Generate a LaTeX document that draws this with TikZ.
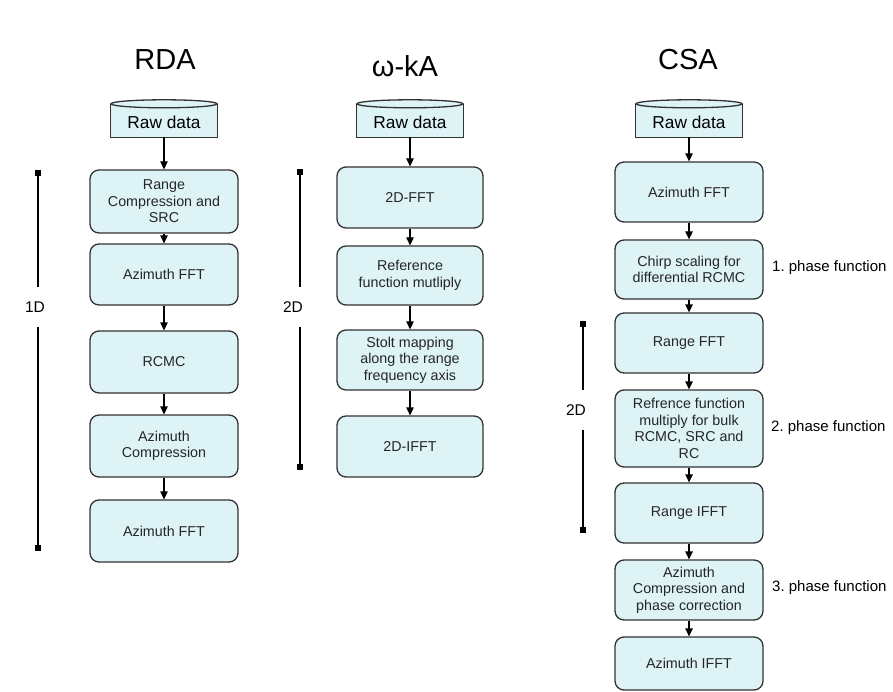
\documentclass[tikz,border=0pt]{standalone}
\usepackage{fontspec}
\setmainfont{Liberation Sans}
\usetikzlibrary{backgrounds,arrows.meta}
\frenchspacing
\definecolor{boxfill}{RGB}{221,243,246}
\definecolor{boxline}{RGB}{50,50,50}
\newcommand\rawcyl[1]{%
  \fill[boxfill] ([yshift=-4pt]#1.north west) -- (#1.south west) -- (#1.south east) -- ([yshift=-4pt]#1.north east) -- cycle;
  \draw[draw=boxline,line width=1.3pt] ([yshift=-4pt]#1.north west) -- (#1.south west) -- (#1.south east) -- ([yshift=-4pt]#1.north east);
  \draw[draw=boxline,fill=boxfill,line width=1.3pt] ([yshift=-4pt]#1.north) ellipse [x radius=53pt, y radius=4pt];
}
\tikzset{
  proc/.style={draw=boxline, fill=boxfill, line width=1.3pt, rounded corners=9pt, minimum width=148pt, align=center, font=\fontsize{14.3}{16.5}\selectfont, inner sep=2pt, text=black!85},
  rawbox/.style={minimum width=106pt, minimum height=37pt, inner sep=0pt},
  rawtext/.style={font=\fontsize{17.3}{20}\selectfont},
  flow/.style={-{Triangle[length=8pt,width=7.5pt]}, line width=1.3pt},
  title/.style={font=\fontsize{29}{32}\selectfont},
  plabel/.style={font=\fontsize{15}{18}\selectfont, anchor=west, inner sep=0pt},
  dlabel/.style={font=\fontsize{15.5}{18}\selectfont, inner xsep=0pt, inner ysep=14pt},
  bar/.style={line width=1.8pt},
  barend/.style={fill=black, minimum size=6pt, inner sep=0pt},
}
\begin{document}
\begin{tikzpicture}[x=1pt,y=-1pt]
\useasboundingbox (0,0) rectangle (893,692);
% titles
\node[title] (tRDA) at (165,60) {RDA};
\node[title] (tWKA) at (405,66) {ω-kA};
\node[title] (tCSA) at (688,60) {CSA};
% raw data
\node[rawbox] (r1) at (164,118.5) {};
\node[rawbox] (r2) at (410,118.5) {};
\node[rawbox] (r3) at (689,118.5) {};
\begin{scope}[on background layer]
\rawcyl{r1}\rawcyl{r2}\rawcyl{r3}
\end{scope}
\node[rawtext] (rt1) at (164,122) {Raw data};
\node[rawtext] (rt2) at (410,122) {Raw data};
\node[rawtext] (rt3) at (689,122) {Raw data};
% RDA
\node[proc, minimum height=63pt] (a1) at (164,201.5) {Range\\Compression and\\SRC};
\node[proc, minimum height=61pt] (a2) at (164,274.5) {Azimuth FFT};
\node[proc, minimum height=62pt] (a3) at (164,362) {RCMC};
\node[proc, minimum height=62pt] (a4) at (164,446) {Azimuth\\Compression};
\node[proc, minimum height=62pt] (a5) at (164,531) {Azimuth FFT};
\draw[flow] (r1) -- (a1);
\draw[flow] (a1) -- (a2);
\draw[flow] (a2) -- (a3);
\draw[flow] (a3) -- (a4);
\draw[flow] (a4) -- (a5);
% wkA
\node[proc, minimum width=146pt, minimum height=61pt] (k1) at (410,197.5) {2D-FFT};
\node[proc, minimum width=146pt, minimum height=59pt] (k2) at (410,275.5) {Reference\\function mutliply};
\node[proc, minimum width=146pt, minimum height=60pt] (k3) at (410,360) {Stolt mapping\\along the range\\frequency axis};
\node[proc, minimum width=146pt, minimum height=61pt] (k4) at (410,446.5) {2D-IFFT};
\draw[flow] (r2) -- (k1);
\draw[flow] (k1) -- (k2);
\draw[flow] (k2) -- (k3);
\draw[flow] (k3) -- (k4);
% CSA
\node[proc, minimum height=60pt] (c1) at (689,192) {Azimuth FFT};
\node[proc, minimum height=59pt] (c2) at (689,269.5) {Chirp scaling for\\differential RCMC};
\node[proc, minimum height=60pt] (c3) at (689,343) {Range FFT};
\node[proc, minimum height=77pt] (c4) at (689,428.5) {Refrence function\\multiply for bulk\\RCMC, SRC and\\RC};
\node[proc, minimum height=60pt] (c5) at (689,513) {Range IFFT};
\node[proc, minimum height=60pt] (c6) at (689,590) {Azimuth\\Compression and\\phase correction};
\node[proc, minimum height=53pt] (c7) at (689,663.5) {Azimuth IFFT};
\draw[flow] (r3) -- (c1);
\draw[flow] (c1) -- (c2);
\draw[flow] (c2) -- (c3);
\draw[flow] (c3) -- (c4);
\draw[flow] (c4) -- (c5);
\draw[flow] (c5) -- (c6);
\draw[flow] (c6) -- (c7);
% phase labels
\node[plabel] (p1) at (772,268) {1. phase function};
\node[plabel] (p2) at (771,428) {2. phase function};
\node[plabel] (p3) at (772,588) {3. phase function};
% bars
\node[barend] (e1t) at (38,173) {};
\node[barend] (e1b) at (38,548) {};
\node[dlabel] (d1) at (35,307) {1D};
\draw[bar] (e1t.center) -- (e1t |- d1.north);
\draw[bar] (e1b |- d1.south) -- (e1b.center);
\node[barend] (e2t) at (300,172) {};
\node[barend] (e2b) at (300,467) {};
\node[dlabel] (d2) at (293,307) {2D};
\draw[bar] (e2t.center) -- (e2t |- d2.north);
\draw[bar] (e2b |- d2.south) -- (e2b.center);
\node[barend] (e3t) at (583,324) {};
\node[barend] (e3b) at (583,530) {};
\node[dlabel] (d3) at (576,410) {2D};
\draw[bar] (e3t.center) -- (e3t |- d3.north);
\draw[bar] (e3b |- d3.south) -- (e3b.center);
\end{tikzpicture}
\end{document}
